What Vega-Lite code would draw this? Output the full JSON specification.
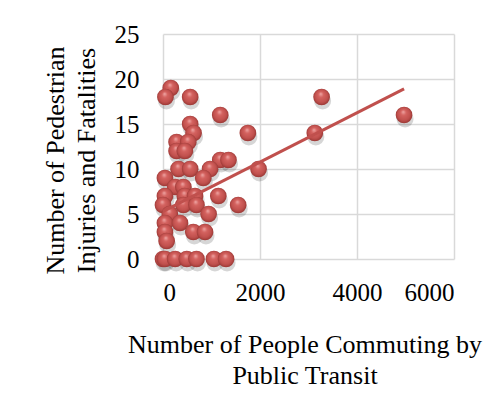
{
  "$schema": "https://vega.github.io/schema/vega-lite/v6.json",
  "width": 291,
  "height": 225,
  "autosize": {"type": "none"},
  "padding": {"left": 163, "top": 34, "right": 48, "bottom": 147},
  "background": "white",
  "config": {
    "view": {"stroke": null},
    "font": "Liberation Serif",
    "axis": {
      "labelFont": "Liberation Serif",
      "titleFont": "Liberation Serif",
      "labelColor": "#000000",
      "titleColor": "#000000",
      "labelFontSize": 25,
      "titleFontSize": 26,
      "titleFontWeight": "normal",
      "domain": false,
      "ticks": false,
      "grid": true,
      "gridColor": "#d9d9d9",
      "gridWidth": 1.5
    }
  },
  "datasets": {
    "points": [
      {"commuters": 160, "injuries": 19},
      {"commuters": 50, "injuries": 18},
      {"commuters": 560, "injuries": 18},
      {"commuters": 3270, "injuries": 18},
      {"commuters": 1180, "injuries": 16},
      {"commuters": 4970, "injuries": 16},
      {"commuters": 560, "injuries": 15},
      {"commuters": 630, "injuries": 14},
      {"commuters": 1750, "injuries": 14},
      {"commuters": 3130, "injuries": 14},
      {"commuters": 280, "injuries": 13},
      {"commuters": 520, "injuries": 13},
      {"commuters": 280, "injuries": 12},
      {"commuters": 450, "injuries": 12},
      {"commuters": 1180, "injuries": 11},
      {"commuters": 1350, "injuries": 11},
      {"commuters": 320, "injuries": 10},
      {"commuters": 560, "injuries": 10},
      {"commuters": 970, "injuries": 10},
      {"commuters": 1970, "injuries": 10},
      {"commuters": 40, "injuries": 9},
      {"commuters": 830, "injuries": 9},
      {"commuters": 250, "injuries": 8},
      {"commuters": 420, "injuries": 8},
      {"commuters": 40, "injuries": 7},
      {"commuters": 450, "injuries": 7},
      {"commuters": 660, "injuries": 7},
      {"commuters": 1140, "injuries": 7},
      {"commuters": 0, "injuries": 6},
      {"commuters": 420, "injuries": 6},
      {"commuters": 690, "injuries": 6},
      {"commuters": 1550, "injuries": 6},
      {"commuters": 140, "injuries": 5},
      {"commuters": 940, "injuries": 5},
      {"commuters": 40, "injuries": 4},
      {"commuters": 350, "injuries": 4},
      {"commuters": 40, "injuries": 3},
      {"commuters": 625, "injuries": 3},
      {"commuters": 866, "injuries": 3},
      {"commuters": 75, "injuries": 2},
      {"commuters": 0, "injuries": 0},
      {"commuters": 40, "injuries": 0},
      {"commuters": 250, "injuries": 0},
      {"commuters": 490, "injuries": 0},
      {"commuters": 690, "injuries": 0},
      {"commuters": 1050, "injuries": 0},
      {"commuters": 1300, "injuries": 0}
    ],
    "trend": [
      {"commuters": 0, "injuries": 5.3},
      {"commuters": 4970, "injuries": 18.9}
    ]
  },
  "encoding": {
    "x": {
      "field": "commuters",
      "type": "quantitative",
      "scale": {"domain": [0, 6000], "nice": false},
      "axis": {
        "values": [0, 2000, 4000, 6000],
        "format": "d",
        "labelFont": "Liberation Serif",
        "labelFontSize": 25,
        "labelPadding": 21,
        "title": ["Number of People Commuting by", "Public Transit"],
        "titleLineHeight": 30.5,
        "titleBaseline": "alphabetic",
        "titleX": 141.5,
        "titleY": 93.7
      }
    },
    "y": {
      "field": "injuries",
      "type": "quantitative",
      "scale": {"domain": [0, 25], "nice": false},
      "axis": {
        "values": [0, 5, 10, 15, 20, 25],
        "format": "d",
        "labelFont": "Liberation Serif",
        "labelFontSize": 25,
        "labelPadding": 24,
        "title": ["Number of Pedestrian", "Injuries and Fatalities"],
        "titleLineHeight": 31,
        "titleAngle": -90,
        "titleAlign": "center",
        "titleBaseline": "middle",
        "titleX": -108,
        "titleY": 126
      }
    }
  },
  "layer": [
    {
      "data": {"name": "points"},
      "mark": {"type": "point", "shape": "circle", "filled": true, "size": 290, "color": "#000000", "opacity": 0.16, "yOffset": 4, "xOffset": 1}
    },
    {
      "data": {"name": "points"},
      "mark": {
        "type": "point",
        "shape": "circle",
        "filled": true,
        "size": 280,
        "opacity": 1,
        "strokeWidth": 0,
        "color": {
          "gradient": "radial",
          "x1": 0.45, "y1": 0.3, "r1": 0,
          "x2": 0.5, "y2": 0.5, "r2": 0.55,
          "stops": [
            {"offset": 0, "color": "#f0aaa8"},
            {"offset": 0.3, "color": "#d4625f"},
            {"offset": 0.7, "color": "#c0504d"},
            {"offset": 1, "color": "#8e302d"}
          ]
        }
      }
    },
    {
      "data": {"name": "trend"},
      "mark": {"type": "line", "color": "#c0504d", "strokeWidth": 3}
    }
  ]
}
